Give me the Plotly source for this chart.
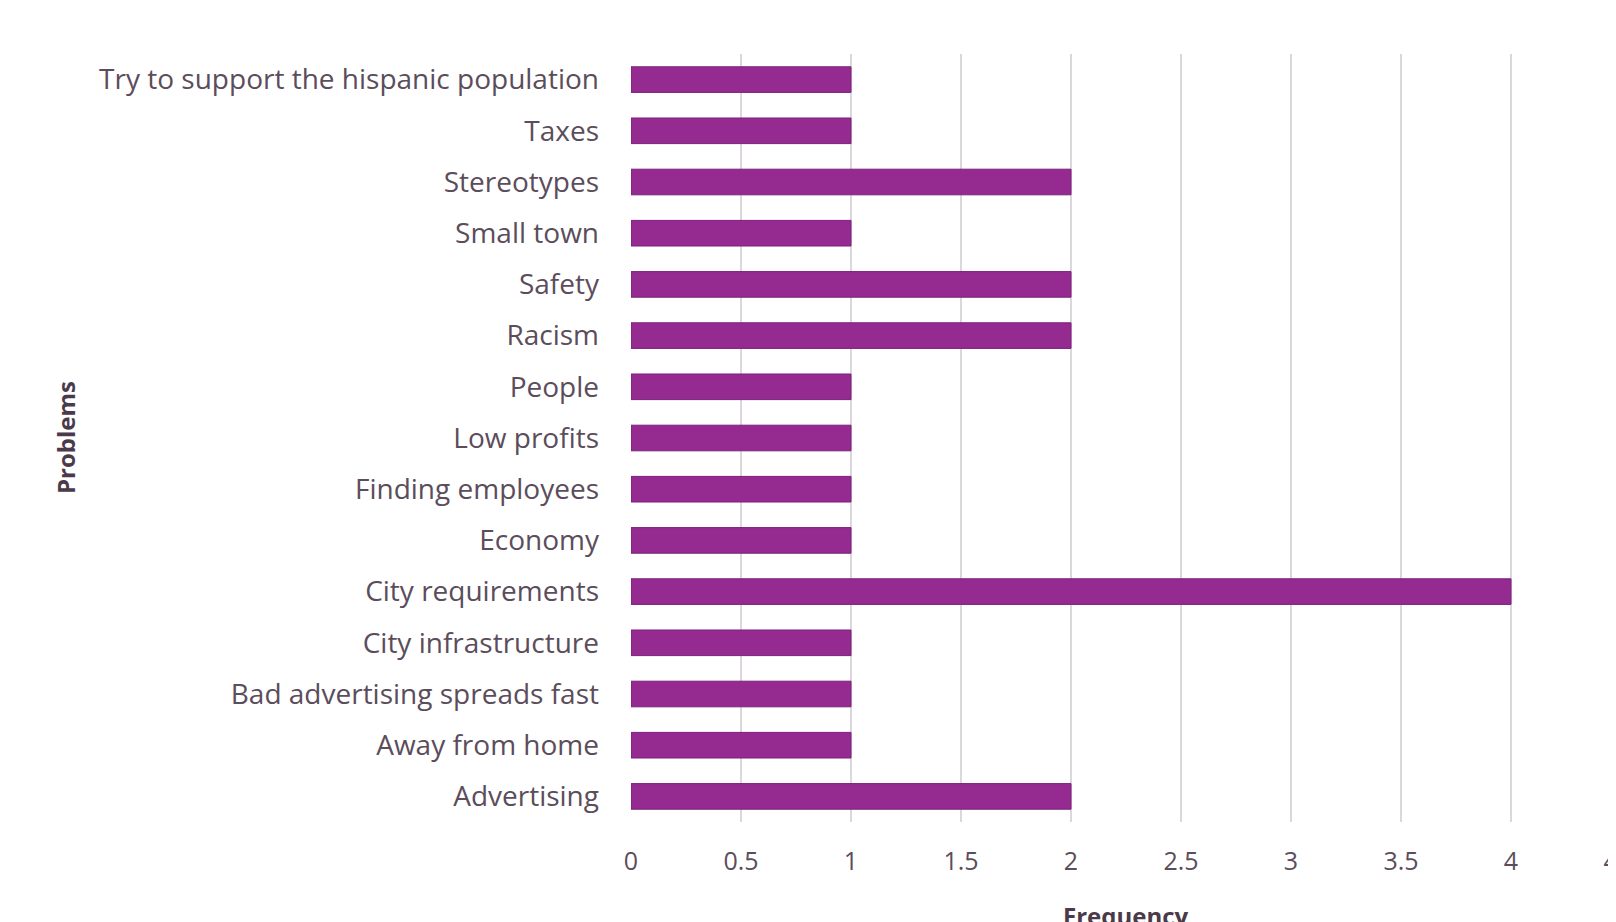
import plotly.graph_objects as go

categories = [
    "Advertising",
    "Away from home",
    "Bad advertising spreads fast",
    "City infrastructure",
    "City requirements",
    "Economy",
    "Finding employees",
    "Low profits",
    "People",
    "Racism",
    "Safety",
    "Small town",
    "Stereotypes",
    "Taxes",
    "Try to support the hispanic population",
]
frequency = [2, 1, 1, 1, 4, 1, 1, 1, 1, 2, 2, 1, 2, 1, 1]
x_ticks = [0, 0.5, 1, 1.5, 2, 2.5, 3, 3.5, 4, 4.5]
x_tick_labels = ["0", "0.5", "1", "1.5", "2", "2.5", "3", "3.5", "4", "4.5"]

# the page body adds an 8px offset; positions below are in figure coordinates
W, H = 1616, 922
ML, MR, MT, MB = 623, 3, 46, 108

fig = go.Figure(
    go.Bar(
        x=frequency,
        y=categories,
        orientation="h",
        width=0.5,
        marker=dict(color="#952a91", line=dict(color="#7a1f78", width=1)),
        hoverinfo="x+y",
    )
)

text_color = "#5b4d5b"
fig.update_layout(
    width=W,
    height=H,
    margin=dict(l=ML, r=MR, t=MT, b=MB, pad=0, autoexpand=False),
    paper_bgcolor="white",
    plot_bgcolor="white",
    showlegend=False,
    font=dict(family="Open Sans, sans-serif", size=26, color=text_color),
    bargap=0.5,
)
fig.update_xaxes(
    automargin=False,
    range=[0, 4.5],
    tickvals=x_ticks,
    ticktext=x_tick_labels,
    ticklabeloverflow="allow",
    showgrid=True,
    gridcolor="#dcd7dc",
    gridwidth=1.5,
    zeroline=False,
    showline=False,
    ticks="",
    ticklabelstandoff=22,
    tickfont=dict(size=25, color=text_color),
)
fig.update_yaxes(
    automargin=False,
    categoryorder="array",
    categoryarray=categories,
    showgrid=False,
    showline=False,
    ticks="",
    ticklabelstandoff=31,
    tickfont=dict(size=28, color=text_color),
)

plot_h = H - MT - MB
plot_w = W - ML - MR
fig.add_annotation(
    text="<b>Problems</b>",
    xref="paper", yref="paper",
    x=(57 - ML) / plot_w, y=1 - (430 - MT) / plot_h,
    textangle=-90,
    showarrow=False,
    font=dict(size=24, color="#4a3a4a"),
    xanchor="center", yanchor="middle",
)
fig.add_annotation(
    text="<b>Frequency</b>",
    xref="paper", yref="paper",
    x=0.5, y=-(889 - (H - MB)) / plot_h,
    showarrow=False,
    font=dict(size=24, color="#4a3a4a"),
    xanchor="center", yanchor="top",
)

fig.write_html("out.html")
